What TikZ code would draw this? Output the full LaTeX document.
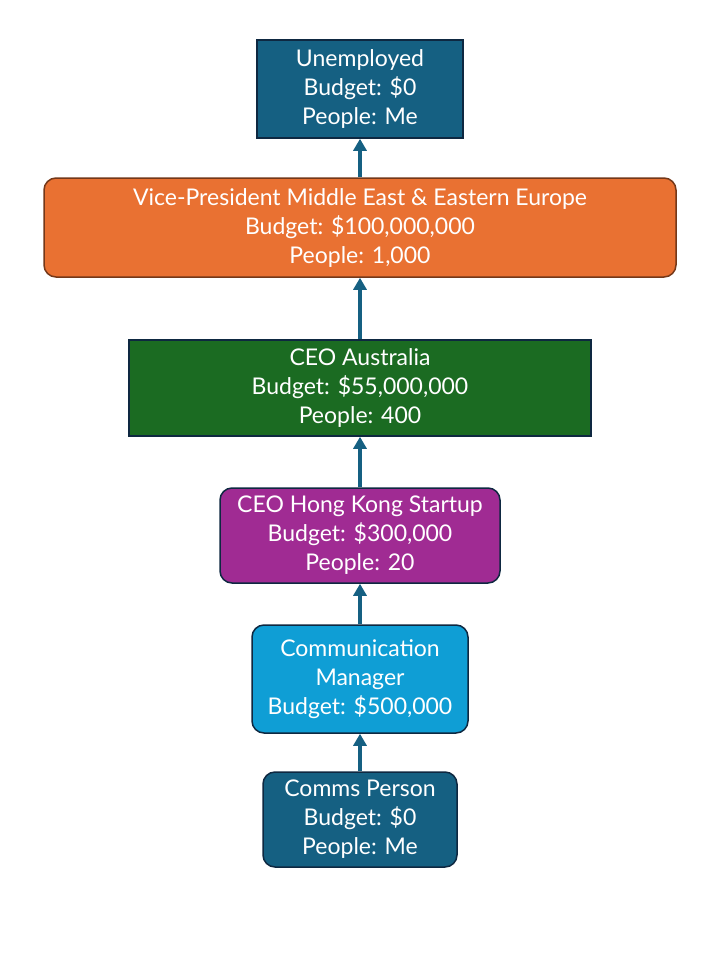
\documentclass[tikz,border=0pt]{standalone}
\usepackage{fontspec}
\setmainfont{Lato}
\usetikzlibrary{positioning,arrows.meta}
\definecolor{navy}{HTML}{156082}
\definecolor{orng}{HTML}{E97132}
\definecolor{grn}{HTML}{1B6B22}
\definecolor{purp}{HTML}{A02B93}
\definecolor{sky}{HTML}{0F9ED5}
\definecolor{edge}{HTML}{0E2841}
\tikzset{
  job/.style={draw=edge,line width=0.75pt,text=white,align=center,font=\fontsize{11.5}{14.5}\selectfont,inner sep=0pt},
  rjob/.style={job,rounded corners=6pt},
  up/.style={draw=navy,line width=2pt,-{Triangle[length=6pt,width=6.5pt]}}
}
\begin{document}
\begin{tikzpicture}[x=0.5pt,y=-0.5pt]
\useasboundingbox (0,0) rectangle (720,960);
\node [job,fill=navy,minimum width=103pt,minimum height=49pt] (un) at (360,89) {Unemployed\\Budget: \$0\\People: Me};
\node [rjob,fill=orng,draw=orng!50!black,minimum width=316pt,minimum height=49.5pt] (vp) at (360,227.5) {Vice-President Middle East \& Eastern Europe\\Budget: \$100,000,000\\People: 1,000};
\node [job,fill=grn,minimum width=231pt,minimum height=48pt] (au) at (360,388) {CEO Australia\\Budget: \$55,000,000\\People: 400};
\node [rjob,fill=purp,minimum width=140pt,minimum height=47.5pt] (hk) at (360,535.5) {CEO Hong Kong Startup\\Budget: \$300,000\\People: 20};
\node [rjob,fill=sky,minimum width=108pt,minimum height=54pt] (cm) at (360,679) {Communication\\Manager\\Budget: \$500,000};
\node [rjob,fill=navy,minimum width=97pt,minimum height=47.5pt] (cp) at (360,819.5) {Comms Person\\Budget: \$0\\People: Me};
% promotions, bottom to top
\draw [up] (cp) -- (cm);
\draw [up] (cm) -- (hk);
\draw [up] (hk) -- (au);
\draw [up] (au) -- (vp);
\draw [up] (vp) -- (un);
\end{tikzpicture}
\end{document}
